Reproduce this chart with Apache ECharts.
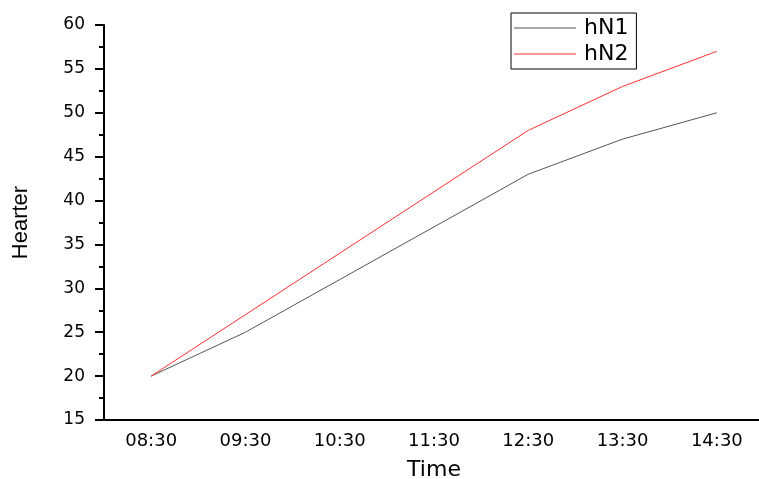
<!DOCTYPE html>
<html><head><meta charset="utf-8">
<script src="https://cdn.jsdelivr.net/npm/echarts@6/dist/echarts.min.js"></script>
<style>html,body{margin:0;padding:0;background:#fff}#c{width:759px;height:479px}</style>
</head><body><div id="c"></div>
<script>
var categories = ['08:30','09:30','10:30','11:30','12:30','13:30','14:30'];
var hN1 = [20, 25, 31, 37, 43, 47, 50];
var hN2 = [20, 27, 34, 41, 48, 53, 57];
var yMin = 15, yMax = 60, yStep = 5;

var wide = 'DejaVu Sans, sans-serif';
var arial = 'Liberation Sans, Arial, sans-serif';
var chart = echarts.init(document.getElementById('c'));
chart.setOption({
  animation: false,
  backgroundColor: '#fff',
  grid: {left: 104, top: 25, bottom: 59, right: -5, containLabel: false, outerBoundsMode: 'none'},
  legend: {
    orient: 'vertical', left: 511, top: 13,
    data: ['hN1', 'hN2'],
    itemWidth: 62, itemHeight: 1, itemGap: 4,
    icon: 'rect',
    borderColor: '#000', borderWidth: 1,
    padding: [4, 8, 4, 3],
    textStyle: {fontFamily: wide, fontSize: 22, color: '#000', padding: [0, 0, 0, 3]}
  },
  xAxis: [{
    type: 'category', data: categories, boundaryGap: true,
    name: 'Time', nameLocation: 'middle', nameGap: 39,
    nameTextStyle: {fontFamily: wide, fontSize: 22, color: '#000'},
    axisLine: {lineStyle: {color: '#000', width: 2}},
    axisTick: {alignWithLabel: true, length: 8, lineStyle: {color: '#000', width: 2}},
    axisLabel: {fontFamily: wide, fontSize: 18, color: '#000', margin: 12},
    splitLine: {show: false}
  }, {
    type: 'category', data: categories, boundaryGap: true, position: 'bottom',
    axisLine: {show: false},
    axisTick: {alignWithLabel: false, length: 4, lineStyle: {color: '#000', width: 2}},
    axisLabel: {show: false},
    splitLine: {show: false}
  }],
  yAxis: {
    type: 'value', min: yMin, max: yMax, interval: yStep,
    name: 'Hearter', nameLocation: 'middle', nameGap: 72, nameRotate: 90,
    nameTextStyle: {fontFamily: arial, fontSize: 22, color: '#000'},
    axisLine: {show: true, lineStyle: {color: '#000', width: 2}},
    axisTick: {show: true, length: 9, lineStyle: {color: '#000', width: 2}},
    minorTick: {show: true, splitNumber: 2, length: 5, lineStyle: {color: '#000', width: 2}},
    axisLabel: {fontFamily: wide, fontSize: 17, color: '#000', margin: 19},
    splitLine: {show: false}
  },
  series: [
    {name: 'hN1', type: 'line', data: hN1, showSymbol: false, symbol: 'none',
     lineStyle: {color: '#555555', width: 1}, itemStyle: {color: '#555555'}},
    {name: 'hN2', type: 'line', data: hN2, showSymbol: false, symbol: 'none',
     lineStyle: {color: '#ff3030', width: 1}, itemStyle: {color: '#ff3030'}}
  ]
});
</script></body></html>
